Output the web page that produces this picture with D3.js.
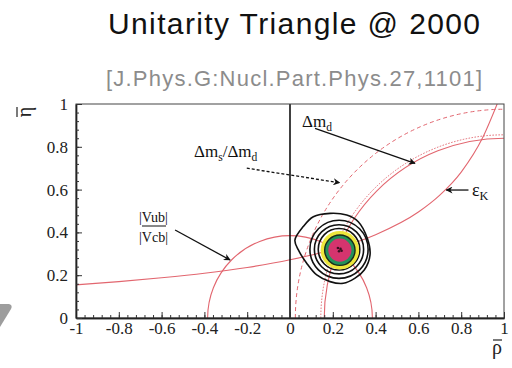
<!DOCTYPE html>
<html>
<head>
<meta charset="utf-8">
<script src="https://cdn.jsdelivr.net/npm/d3@7"></script>
<style>
  html, body { margin: 0; padding: 0; background: #fff; }
  svg { display: block; }
</style>
</head>
<body>
<div id="chart"></div>
<script>
// ---- data ----
const xTicks = [-1, -0.8, -0.6, -0.4, -0.2, 0, 0.2, 0.4, 0.6, 0.8, 1];
const yTicks = [0, 0.2, 0.4, 0.6, 0.8, 1];

// |Vub|/|Vcb| circle, centred on (0,0)
const vubRadius = 0.385;
// Delta m_d circles centred on (1,0): solid edge + dotted companion
const dmdSolidRadius = 0.84;
const dmdDottedRadius = 0.856;
// Delta m_s / Delta m_d limit, centred on (1,0)
const dmsRadius = 0.975;

// eps_K hyperbola, points [rho, eta]
const epsK = [
  [-1, 0.155], [-0.8, 0.17], [-0.6, 0.188], [-0.4, 0.209], [-0.2, 0.236],
  [0, 0.272], [0.2, 0.32], [0.4, 0.389], [0.6, 0.495], [0.7, 0.574],
  [0.8, 0.682], [0.9, 0.842], [0.968, 1.0]
];

// fit contours
const contourCenter = [0.229, 0.321];
const blackRings = [0.136, 0.115, 0.097];
const fillRings = [
  { r: 0.09, fill: "#ede63c", stroke: "none" },
  { r: 0.071, fill: "#23915a", stroke: "#1a2a1a" },
  { r: 0.054, fill: "#d5346e", stroke: "none" }
];
const outerContour = [
  [0.023, 0.364], [0.062, 0.427], [0.109, 0.473], [0.187, 0.489], [0.265, 0.481],
  [0.319, 0.45], [0.362, 0.37], [0.374, 0.295], [0.347, 0.224], [0.304, 0.186],
  [0.249, 0.162], [0.187, 0.17], [0.125, 0.201], [0.078, 0.256], [0.039, 0.318]
];
const centerDots = [[0.224, 0.327], [0.236, 0.323], [0.229, 0.312], [0.241, 0.314]];

// annotation arrows [from, to]
const arrowDmd = [[0.117, 0.886], [0.584, 0.723]];
const arrowDms = [[-0.202, 0.70], [0.232, 0.632]];
const arrowEps = [[0.834, 0.598], [0.73, 0.598]];
const arrowVub = [[-0.537, 0.411], [-0.28, 0.271]];

// ---- layout ----
const W = 512, H = 368;
const plot = { left: 76, right: 504, top: 104, bottom: 318 };
const red = "#e2666f";
const serif = "'Liberation Serif', 'Times New Roman', serif";

const svg = d3.select("#chart").append("svg")
  .attr("width", W).attr("height", H)
  .style("font-family", serif);

const x = d3.scaleLinear().domain([-1, 1]).range([plot.left, plot.right]);
const y = d3.scaleLinear().domain([0, 1]).range([plot.bottom, plot.top]);
const px = r => x(r) - x(0); // data length -> pixels (same scale both axes)

// title
svg.append("text")
  .attr("x", 294).attr("y", 34)
  .attr("text-anchor", "middle")
  .attr("textLength", 372).attr("lengthAdjust", "spacing")
  .style("font-family", "'Liberation Sans', Arial, sans-serif")
  .style("font-size", "30px").style("fill", "#111")
  .text("Unitarity Triangle @ 2000");

svg.append("text")
  .attr("x", 294).attr("y", 86)
  .attr("text-anchor", "middle")
  .attr("textLength", 376).attr("lengthAdjust", "spacing")
  .style("font-family", "'Liberation Sans', Arial, sans-serif")
  .style("font-size", "22px").style("fill", "#8c8c8c")
  .text("[J.Phys.G:Nucl.Part.Phys.27,1101]");

// grey slide decoration at bottom-left
svg.append("path")
  .attr("d", "M0,304 L9,304 Q13,305 11,309 L0,327 Z")
  .attr("fill", "#9d9d9d");

// defs: clip + arrowhead
const defs = svg.append("defs");
defs.append("clipPath").attr("id", "plotclip")
  .append("rect")
  .attr("x", plot.left).attr("y", plot.top)
  .attr("width", plot.right - plot.left).attr("height", plot.bottom - plot.top);

defs.append("marker")
  .attr("id", "head")
  .attr("viewBox", "0 0 10 10")
  .attr("refX", 9).attr("refY", 5)
  .attr("markerWidth", 7).attr("markerHeight", 7)
  .attr("markerUnits", "userSpaceOnUse")
  .attr("orient", "auto")
  .append("path").attr("d", "M0,0 L10,5 L0,10 L3,5 Z").attr("fill", "#111");

const g = svg.append("g").attr("clip-path", "url(#plotclip)");

// upper half circle in data space
function halfCircle(cx, cy, r) {
  const p = d3.path();
  p.arc(x(cx), y(cy), px(r), Math.PI, 2 * Math.PI, false);
  return p.toString();
}

// constraint curves
g.append("path").attr("d", halfCircle(1, 0, dmsRadius))
  .attr("fill", "none").attr("stroke", red).attr("stroke-width", 1)
  .attr("stroke-dasharray", "4,3");

g.append("path").attr("d", halfCircle(1, 0, dmdDottedRadius))
  .attr("fill", "none").attr("stroke", red).attr("stroke-width", 1)
  .attr("stroke-dasharray", "1.5,1.5");

g.append("path").attr("d", halfCircle(1, 0, dmdSolidRadius))
  .attr("fill", "none").attr("stroke", red).attr("stroke-width", 1.1);

g.append("path").attr("d", halfCircle(0, 0, vubRadius))
  .attr("fill", "none").attr("stroke", red).attr("stroke-width", 1.1);

const line = d3.line().x(d => x(d[0])).y(d => y(d[1])).curve(d3.curveMonotoneX);
g.append("path").datum(epsK).attr("d", line)
  .attr("fill", "none").attr("stroke", red).attr("stroke-width", 1.1);

// rho = 0 line
svg.append("line")
  .attr("x1", x(0)).attr("x2", x(0))
  .attr("y1", plot.top).attr("y2", plot.bottom)
  .attr("stroke", "#111").attr("stroke-width", 1.6);

// contours
const cg = g.append("g");
cg.append("path").datum(outerContour)
  .attr("d", d3.line().x(d => x(d[0])).y(d => y(d[1])).curve(d3.curveCatmullRomClosed))
  .attr("fill", "none").attr("stroke", "#111").attr("stroke-width", 1.6);

cg.selectAll("circle.ring").data(blackRings).enter().append("circle")
  .attr("class", "ring")
  .attr("cx", x(contourCenter[0])).attr("cy", y(contourCenter[1]))
  .attr("r", d => px(d))
  .attr("fill", "none").attr("stroke", "#111").attr("stroke-width", 1.6);

cg.selectAll("circle.fill").data(fillRings).enter().append("circle")
  .attr("class", "fill")
  .attr("cx", x(contourCenter[0] + 0.004)).attr("cy", y(contourCenter[1] - 0.004))
  .attr("r", d => px(d.r))
  .attr("fill", d => d.fill).attr("stroke", d => d.stroke).attr("stroke-width", 1.4);

cg.selectAll("circle.dot").data(centerDots).enter().append("circle")
  .attr("class", "dot")
  .attr("cx", d => x(d[0])).attr("cy", d => y(d[1]))
  .attr("r", 1.3).attr("fill", "#3a1020");

// frame
svg.append("rect")
  .attr("x", plot.left).attr("y", plot.top)
  .attr("width", plot.right - plot.left).attr("height", plot.bottom - plot.top)
  .attr("fill", "none").attr("stroke", "#444").attr("stroke-width", 1);

// axes: major + minor ticks pointing inward
const fmt = d => String(d);
const minorX = d3.range(0, 51).map(i => -1 + i * 0.04);
const minorY = d3.range(0, 26).map(i => i * 0.04);

svg.append("g").attr("transform", `translate(0,${plot.bottom})`)
  .call(d3.axisBottom(x).tickValues(xTicks).tickFormat(fmt)
    .tickSizeInner(-6).tickSizeOuter(0).tickPadding(4));
svg.append("g").attr("transform", `translate(0,${plot.bottom})`)
  .call(d3.axisBottom(x).tickValues(minorX).tickFormat("")
    .tickSizeInner(-3).tickSizeOuter(0));

svg.append("g").attr("transform", `translate(${plot.left},0)`)
  .call(d3.axisLeft(y).tickValues(yTicks).tickFormat(fmt)
    .tickSizeInner(-6).tickSizeOuter(0).tickPadding(8));
svg.append("g").attr("transform", `translate(${plot.left},0)`)
  .call(d3.axisLeft(y).tickValues(minorY).tickFormat("")
    .tickSizeInner(-3).tickSizeOuter(0));

svg.selectAll(".domain").attr("stroke", "#222").attr("stroke-width", 1.4);
svg.selectAll(".tick line").attr("stroke", "#333");
svg.selectAll(".tick text")
  .attr("font-family", serif)
  .style("font-family", serif)
  .style("font-size", "17px").style("fill", "#222");

// axis titles (bar drawn as a short line)
svg.append("text")
  .attr("x", 497).attr("y", 354)
  .attr("text-anchor", "middle")
  .style("font-size", "20px").style("fill", "#222")
  .text("ρ");
svg.append("line")
  .attr("x1", 493).attr("x2", 502).attr("y1", 340).attr("y2", 340)
  .attr("stroke", "#222").attr("stroke-width", 1.2);

svg.append("text")
  .attr("transform", "translate(31,112) rotate(-90)")
  .attr("text-anchor", "middle")
  .style("font-size", "20px").style("fill", "#222")
  .text("η");
svg.append("line")
  .attr("x1", 17).attr("x2", 17).attr("y1", 107).attr("y2", 117)
  .attr("stroke", "#222").attr("stroke-width", 1.2);

// arrows
function arrow(pts, dash) {
  svg.append("line")
    .attr("x1", x(pts[0][0])).attr("y1", y(pts[0][1]))
    .attr("x2", x(pts[1][0])).attr("y2", y(pts[1][1]))
    .attr("stroke", "#111").attr("stroke-width", 1.3)
    .attr("stroke-dasharray", dash || null)
    .attr("marker-end", "url(#head)");
}
arrow(arrowDmd);
arrow(arrowDms, "3,2");
arrow(arrowEps);
arrow(arrowVub);

// labels with subscripts
function subLabel(xp, yp, parts, size) {
  const t = svg.append("text").attr("x", xp).attr("y", yp)
    .style("font-size", size + "px").style("fill", "#111");
  let shifted = false;
  parts.forEach(p => {
    const ts = t.append("tspan").text(p.t);
    if (p.sub) {
      ts.attr("dy", 4).style("font-size", (size * 0.68) + "px");
      shifted = true;
    } else if (shifted) {
      ts.attr("dy", -4);
      shifted = false;
    }
  });
}
subLabel(302, 127, [{ t: "Δm" }, { t: "d", sub: true }], 17);
subLabel(194, 157, [{ t: "Δm" }, { t: "s", sub: true }, { t: "/Δm" }, { t: "d", sub: true }], 17);
subLabel(472, 196, [{ t: "ε" }, { t: "K", sub: true }], 18);

svg.append("text").attr("x", 139).attr("y", 222)
  .style("font-size", "14px").style("fill", "#111").text("|Vub|");
svg.append("line")
  .attr("x1", 142).attr("x2", 166).attr("y1", 226).attr("y2", 226)
  .attr("stroke", "#111").attr("stroke-width", 1);
svg.append("text").attr("x", 139).attr("y", 242)
  .style("font-size", "14px").style("fill", "#111").text("|Vcb|");
</script>
</body>
</html>
